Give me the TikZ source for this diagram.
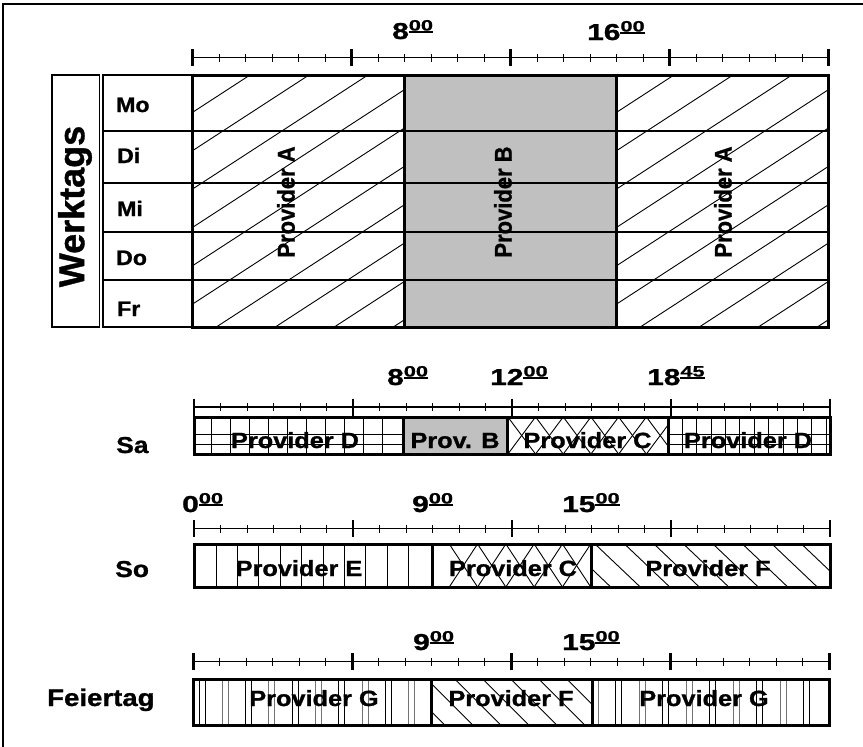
\documentclass[tikz,border=0pt]{standalone}
\usepackage{fontspec}
\setmainfont{Liberation Sans}[BoldFeatures={FakeBold=1}]
\usepackage{graphicx}
\definecolor{provgray}{RGB}{192,192,192}
\newcommand\myul[1]{\setbox0\hbox{#1}\rlap{\rule[-2.2pt]{\wd0}{1.5pt}}\box0}
\newcommand\tlab[2]{\scalebox{1.3}[1]{\fontsize{23}{23}\selectfont\bfseries #1}\raisebox{8.5pt}{\scalebox{1.45}[1]{\myul{\fontsize{15}{15}\selectfont\bfseries #2}}}}
\newcommand\hsx[1]{\scalebox{1.15}[1]{#1}}
\newcommand\timeaxis[3]{%
  \draw[axisline] (#1,#3) -- (#2,#3);
  \foreach \i in {0,...,24}{%
    \pgfmathsetmacro\tx{#1+(#2-#1)*\i/24}%
    \pgfmathtruncatemacro\tm{mod(\i,6)}%
    \ifnum\tm=0 \draw[majtick] (\tx,#3-8.5) -- (\tx,#3+8.5);%
    \else \draw[mintick] (\tx,#3-4) -- (\tx,#3+4);\fi
  }%
}
\begin{document}
\begin{tikzpicture}[x=1pt,y=-1pt,
  frame/.style={line width=2pt},
  barline/.style={line width=3pt},
  thinline/.style={line width=1.2pt},
  hatch/.style={line width=0.9pt},
  grayhatch/.style={line width=0.9pt, draw=black!55},
  axisline/.style={line width=1.5pt},
  majtick/.style={line width=2.6pt},
  mintick/.style={line width=1pt},
  lbl/.style={inner sep=0pt, anchor=base west, font=\bfseries\fontsize{21}{21}\selectfont},
  biglbl/.style={inner sep=0pt, anchor=base west, font=\bfseries\fontsize{23}{23}\selectfont},
  ptext/.style={inner sep=0pt, anchor=base, font=\bfseries\fontsize{22}{22}\selectfont},
  rtext/.style={inner sep=0pt, rotate=90, font=\bfseries\fontsize{22}{22}\selectfont},
  tnode/.style={inner sep=0pt, anchor=base west},
]
\useasboundingbox (0,0) rectangle (863,747);
% frame
\draw[frame] (3,747) -- (3,4.3) -- (863,4.3);

% ===== Werktags =====
\timeaxis{192.5}{828.5}{57.5}
\node[tnode] (t8a) at (392,39) {\tlab{8}{00}};
\node[tnode] (t16a) at (587,40) {\tlab{16}{00}};

\begin{scope}
  \clip (192.5,75) rectangle (404,327);
  \foreach \t in {-2,...,10} \draw[hatch] ({250+59*\t+150},{75-150*0.65}) -- ({250+59*\t-500},{75+500*0.65});
\end{scope}
\fill[provgray] (404,75) rectangle (616,327);
\begin{scope}
  \clip (616,75) rectangle (828,327);
  \foreach \t in {-2,...,10} \draw[hatch] ({674+59*\t+150},{75-150*0.65}) -- ({674+59*\t-500},{75+500*0.65});
\end{scope}
\foreach \yy in {131,183,232,280} \draw[thinline] (103,\yy) -- (828,\yy);
\draw[thinline] (52,75) rectangle (99.3,327);
\draw[thinline] (103,75) rectangle (192.5,327);
\draw[barline] (192.5,75) rectangle (828,327);
\draw[barline] (404,75) -- (404,327);
\draw[barline] (616,75) -- (616,327);

\node[rtext, font=\bfseries\fontsize{36}{36}\selectfont] (wt) at (75,206.5) {Werktags};
\node[lbl] (mo) at (116,112) {\scalebox{1.1}[1]{Mo}};
\node[lbl] (di) at (117,163) {\scalebox{1.1}[1]{Di}};
\node[lbl] (mi) at (117,216) {\scalebox{1.1}[1]{Mi}};
\node[lbl] (do) at (116,265) {\scalebox{1.1}[1]{Do}};
\node[lbl] (fr) at (117,316) {\scalebox{1.1}[1]{Fr}};
\node[rtext] (pa1) at (286,202) {\scalebox{1}[1.1]{Provider A}};
\node[rtext] (pb1) at (503,202) {\scalebox{1}[1.1]{Provider B}};
\node[rtext] (pa2) at (723,202) {\scalebox{1}[1.1]{Provider A}};

% ===== Samstag =====
\timeaxis{194}{830}{407}
\node[tnode] (t8b) at (387,385) {\tlab{8}{00}};
\node[tnode] (t12b) at (490,385) {\tlab{12}{00}};
\node[tnode] (t18b) at (647,385) {\tlab{18}{45}};
\begin{scope}
  \clip (194,417) rectangle (403,454);
  \foreach \k in {0,...,9} \draw[hatch] ({211.7+19*\k},417) -- ({211.7+19*\k},454);
  \draw[hatch] (194,434.3) -- (403,434.3);
  \draw[hatch] (194,444.5) -- (403,444.5);
\end{scope}
\fill[provgray] (403,417) rectangle (507,454);
\begin{scope}
  \clip (507,417) rectangle (668,454);
  \foreach \k in {-2,...,7} {
    \draw[hatch] ({521.7+27.7*\k-30},{435.5-30*1.34}) -- ({521.7+27.7*\k+30},{435.5+30*1.34});
    \draw[hatch] ({521.7+27.7*\k+30},{435.5-30*1.34}) -- ({521.7+27.7*\k-30},{435.5+30*1.34});
  }
\end{scope}
\begin{scope}
  \clip (668,417) rectangle (830,454);
  \foreach \k in {0,...,10} \draw[hatch] ({682.3+14.4*\k},417) -- ({682.3+14.4*\k},454);
  \draw[hatch] (668,434.3) -- (830,434.3);
  \draw[hatch] (668,444.3) -- (830,444.3);
\end{scope}
\draw[barline] (194,417) rectangle (830,454);
\draw[barline] (403,417) -- (403,454);
\draw[barline] (507,417) -- (507,454);
\draw[barline] (668,417) -- (668,454);
\node[biglbl] (sa) at (116,453) {\scalebox{1.15}[1]{Sa}};
\node[ptext] (pd1) at (295,448) {\hsx{Provider D}};
\node[ptext] (pb2) at (455,448) {\hsx{Prov. B}};
\node[ptext] (pc1) at (587.5,448) {\hsx{Provider C}};
\node[ptext] (pd2) at (748,448) {\hsx{Provider D}};

% ===== Sonntag =====
\timeaxis{194}{830}{528.5}
\node[tnode] (t0c) at (182,512) {\tlab{0}{00}};
\node[tnode] (t9c) at (412,512) {\tlab{9}{00}};
\node[tnode] (t15c) at (562,512) {\tlab{15}{00}};
\begin{scope}
  \clip (194,544) rectangle (432,587);
  \foreach \k in {0,...,9} \draw[hatch] ({216+21.4*\k},544) -- ({216+21.4*\k},587);
\end{scope}
\begin{scope}
  \clip (432,544) rectangle (591,587);
  \foreach \k in {-2,...,5} {
    \draw[hatch] ({520+28.3*\k-30},{565.5-30*1.52}) -- ({520+28.3*\k+30},{565.5+30*1.52});
    \draw[hatch] ({520+28.3*\k+30},{565.5-30*1.52}) -- ({520+28.3*\k-30},{565.5+30*1.52});
  }
\end{scope}
\begin{scope}
  \clip (591,544) rectangle (830,587);
  \foreach \k in {-3,...,9} \draw[hatch] ({595+29.5*\k-20},{544-20*0.95}) -- ({595+29.5*\k+80},{544+80*0.95});
\end{scope}
\draw[barline] (194,544) rectangle (830,587);
\draw[barline] (432,544) -- (432,587);
\draw[barline] (591,544) -- (591,587);
\node[biglbl] (so) at (115,577) {\scalebox{1.15}[1]{So}};
\node[ptext] (pe) at (299,576) {\hsx{Provider E}};
\node[ptext] (pc2) at (513,576) {\hsx{Provider C}};
\node[ptext] (pf1) at (708,576) {\hsx{Provider F}};

% ===== Feiertag =====
\timeaxis{193.3}{829.3}{661.7}
\node[tnode] (t9d) at (413,650) {\tlab{9}{00}};
\node[tnode] (t15d) at (562,650) {\tlab{15}{00}};
\begin{scope}
  \clip (193.3,679.3) rectangle (431,725.7);
  \foreach \k in {0,...,9} {
    \pgfmathtruncatemacro\pp{mod(\k,2)}
    \ifnum\pp=0
      \draw[hatch] ({199+23.3*\k},679.3) -- ({199+23.3*\k},725.7);
      \draw[hatch] ({205+23.3*\k},679.3) -- ({205+23.3*\k},725.7);
    \else
      \draw[grayhatch] ({199+23.3*\k},679.3) -- ({199+23.3*\k},725.7);
      \draw[grayhatch] ({205+23.3*\k},679.3) -- ({205+23.3*\k},725.7);
    \fi
  }
\end{scope}
\begin{scope}
  \clip (431,679.3) rectangle (592,725.7);
  \foreach \k in {-3,...,6} \draw[hatch] ({483+28*\k-20},{679.3-20}) -- ({483+28*\k+80},{679.3+80});
\end{scope}
\begin{scope}
  \clip (592,679.3) rectangle (829.3,725.7);
  \foreach \k in {0,...,9} {
    \pgfmathtruncatemacro\pp{mod(\k,2)}
    \ifnum\pp=1
      \draw[hatch] ({592+23.5*\k},679.3) -- ({592+23.5*\k},725.7);
      \draw[hatch] ({598+23.5*\k},679.3) -- ({598+23.5*\k},725.7);
    \else
      \draw[grayhatch] ({592+23.5*\k},679.3) -- ({592+23.5*\k},725.7);
      \draw[grayhatch] ({598+23.5*\k},679.3) -- ({598+23.5*\k},725.7);
    \fi
  }
\end{scope}
\draw[barline] (193.3,679.3) rectangle (829.3,725.7);
\draw[barline] (431,679.3) -- (431,725.7);
\draw[barline] (592,679.3) -- (592,725.7);
\node[biglbl, font=\bfseries\fontsize{24}{24}\selectfont] (fei) at (47,706) {\scalebox{1.15}[1]{Feiertag}};
\node[ptext] (pg1) at (314,706) {\hsx{Provider G}};
\node[ptext] (pf2) at (511,706) {\hsx{Provider F}};
\node[ptext] (pg2) at (704,706) {\hsx{Provider G}};
\end{tikzpicture}
\end{document}
